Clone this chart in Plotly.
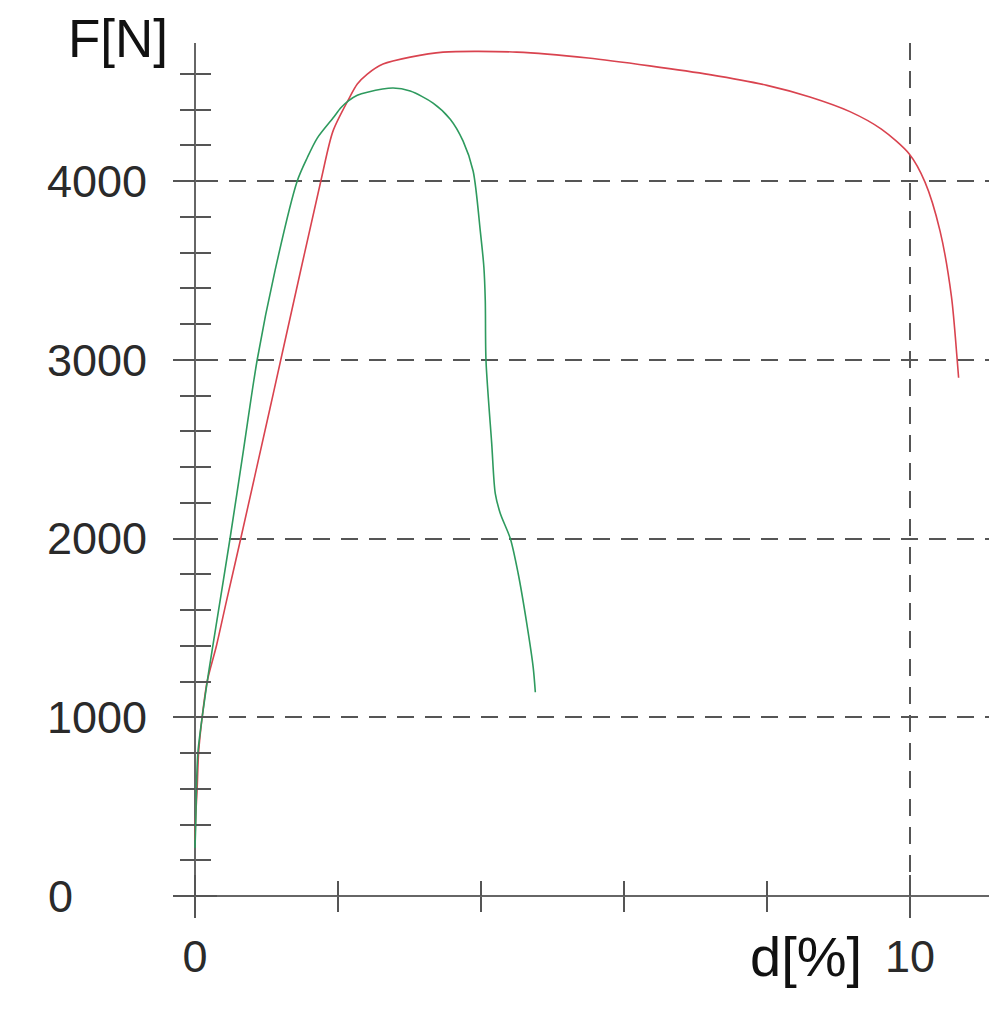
import plotly.graph_objects as go

# ---- data ----
red_d = [0.0, 0.01, 0.03, 0.05, 0.10, 0.17, 0.30, 0.44, 0.64, 1.05, 1.20, 1.76, 1.93, 2.15,
         2.27, 2.41, 2.63, 3.01, 3.47, 4.50, 5.50, 6.36, 7.20, 8.00, 8.60, 9.16, 9.60,
         9.99, 10.21, 10.42, 10.58, 10.66, 10.68]
red_F = [313, 450, 600, 800, 1000, 1200, 1400, 1650, 2000, 2730, 3000, 4000, 4279, 4458,
         4542, 4598, 4654, 4693, 4721, 4721, 4688, 4644, 4595, 4535, 4470, 4388, 4290,
         4151, 3994, 3721, 3353, 3000, 2899]

green_d = [0.0, 0.01, 0.02, 0.04, 0.10, 0.19, 0.29, 0.49, 0.68, 0.87, 1.12, 1.43, 1.57,
           1.71, 1.93, 2.04, 2.15, 2.27, 2.41, 2.77, 3.01, 3.33, 3.57, 3.75, 3.89, 3.99,
           4.04, 4.06, 4.07, 4.15, 4.20, 4.27, 4.41, 4.52, 4.64, 4.73, 4.76]
green_F = [268, 400, 600, 800, 1000, 1250, 1500, 2000, 2500, 3000, 3500, 4000, 4130,
           4240, 4352, 4410, 4450, 4480, 4497, 4520, 4503, 4436, 4346, 4223, 4056, 3721,
           3520, 3330, 2994, 2531, 2251, 2140, 2000, 1804, 1525, 1279, 1140]

y_tickvals = [0, 1000, 2000, 3000, 4000]
y_ticktext = ["", "1000", "2000", "3000", "4000"]
x_tickvals = [0, 10]
x_ticktext = ["0", "10"]

X_RANGE = [-0.3077, 11.217]
Y_RANGE = [-117.5, 4772]
XPOS = 0.02403   # paper position of x axis (y = 0)
YPOS = 0.0267    # paper position of y axis (x = 0)

AX = "#555555"
FONT = "Liberation Sans, Arial, sans-serif"

fig = go.Figure()
fig.add_trace(go.Scatter(x=red_d, y=red_F, mode="lines",
                         line=dict(color="#d9434f", width=1.6, shape="spline", smoothing=0.8),
                         hoverinfo="skip"))
fig.add_trace(go.Scatter(x=green_d, y=green_F, mode="lines",
                         line=dict(color="#2e9a5e", width=1.6, shape="spline", smoothing=0.8),
                         hoverinfo="skip"))
# empty trace to carry the overlay axes (ticks on the other side)
fig.add_trace(go.Scatter(x=[], y=[], xaxis="x2", yaxis="y2", showlegend=False))

fig.update_layout(
    width=997, height=1021,
    margin=dict(l=165, r=8, t=35, b=112),
    paper_bgcolor="white", plot_bgcolor="white",
    showlegend=False,
    font=dict(family=FONT, color="#2a2a2a"),
    xaxis=dict(
        range=X_RANGE, anchor="free", position=XPOS,
        tickmode="array", tickvals=x_tickvals, ticktext=x_ticktext,
        ticks="outside", ticklen=21, tickwidth=2, tickcolor=AX,
        tickfont=dict(size=45, family=FONT, color="#2a2a2a"),
        ticklabelstandoff=0,
        minor=dict(dtick=2, tick0=0, ticks="outside", ticklen=15, tickwidth=2,
                   tickcolor=AX, showgrid=False),
        showgrid=True, gridcolor=AX, gridwidth=2, griddash="17px,11px",
        zeroline=True, zerolinecolor="#666666", zerolinewidth=2,
        showline=False,
    ),
    yaxis=dict(
        range=Y_RANGE, anchor="free", position=YPOS,
        tickmode="array", tickvals=y_tickvals, ticktext=y_ticktext,
        ticks="outside", ticklen=22, tickwidth=2, tickcolor=AX,
        tickfont=dict(size=45, family=FONT, color="#2a2a2a"),
        ticklabelstandoff=17,
        minor=dict(dtick=200, tick0=0, ticks="outside", ticklen=15, tickwidth=2,
                   tickcolor=AX, showgrid=False),
        showgrid=True, gridcolor=AX, gridwidth=2, griddash="17px,11px",
        zeroline=True, zerolinecolor="#666666", zerolinewidth=2,
        showline=False,
    ),
    xaxis2=dict(
        range=X_RANGE, overlaying="x", anchor="free", position=XPOS,
        tickmode="array", tickvals=x_tickvals, showticklabels=False,
        ticks="inside", ticklen=21, tickwidth=2, tickcolor=AX,
        minor=dict(dtick=2, tick0=0, ticks="inside", ticklen=15, tickwidth=2,
                   tickcolor=AX, showgrid=False),
        showgrid=False, zeroline=False, showline=False,
    ),
    yaxis2=dict(
        range=Y_RANGE, overlaying="y", anchor="free", position=YPOS, side="left",
        tickmode="array", tickvals=y_tickvals, showticklabels=False,
        ticks="inside", ticklen=21, tickwidth=2, tickcolor=AX,
        minor=dict(dtick=200, tick0=0, ticks="inside", ticklen=15, tickwidth=2,
                   tickcolor=AX, showgrid=False),
        showgrid=False, zeroline=False, showline=False,
    ),
    annotations=[
        dict(text="F[N]", xref="paper", yref="paper", x=-0.0036, y=1.0057,
             xanchor="right", yanchor="middle", showarrow=False,
             font=dict(size=53, family=FONT, color="#111111")),
        dict(text="d[%]", xref="x", yref="paper", x=9.36, y=-0.045,
             xanchor="right", yanchor="middle", showarrow=False,
             font=dict(size=56, family=FONT, color="#111111")),
        dict(text="0", xref="paper", yref="y", x=-0.1541, y=0,
             xanchor="left", yanchor="middle", showarrow=False,
             font=dict(size=45, family=FONT, color="#2a2a2a")),
    ],
)

fig.write_html("out.html")
